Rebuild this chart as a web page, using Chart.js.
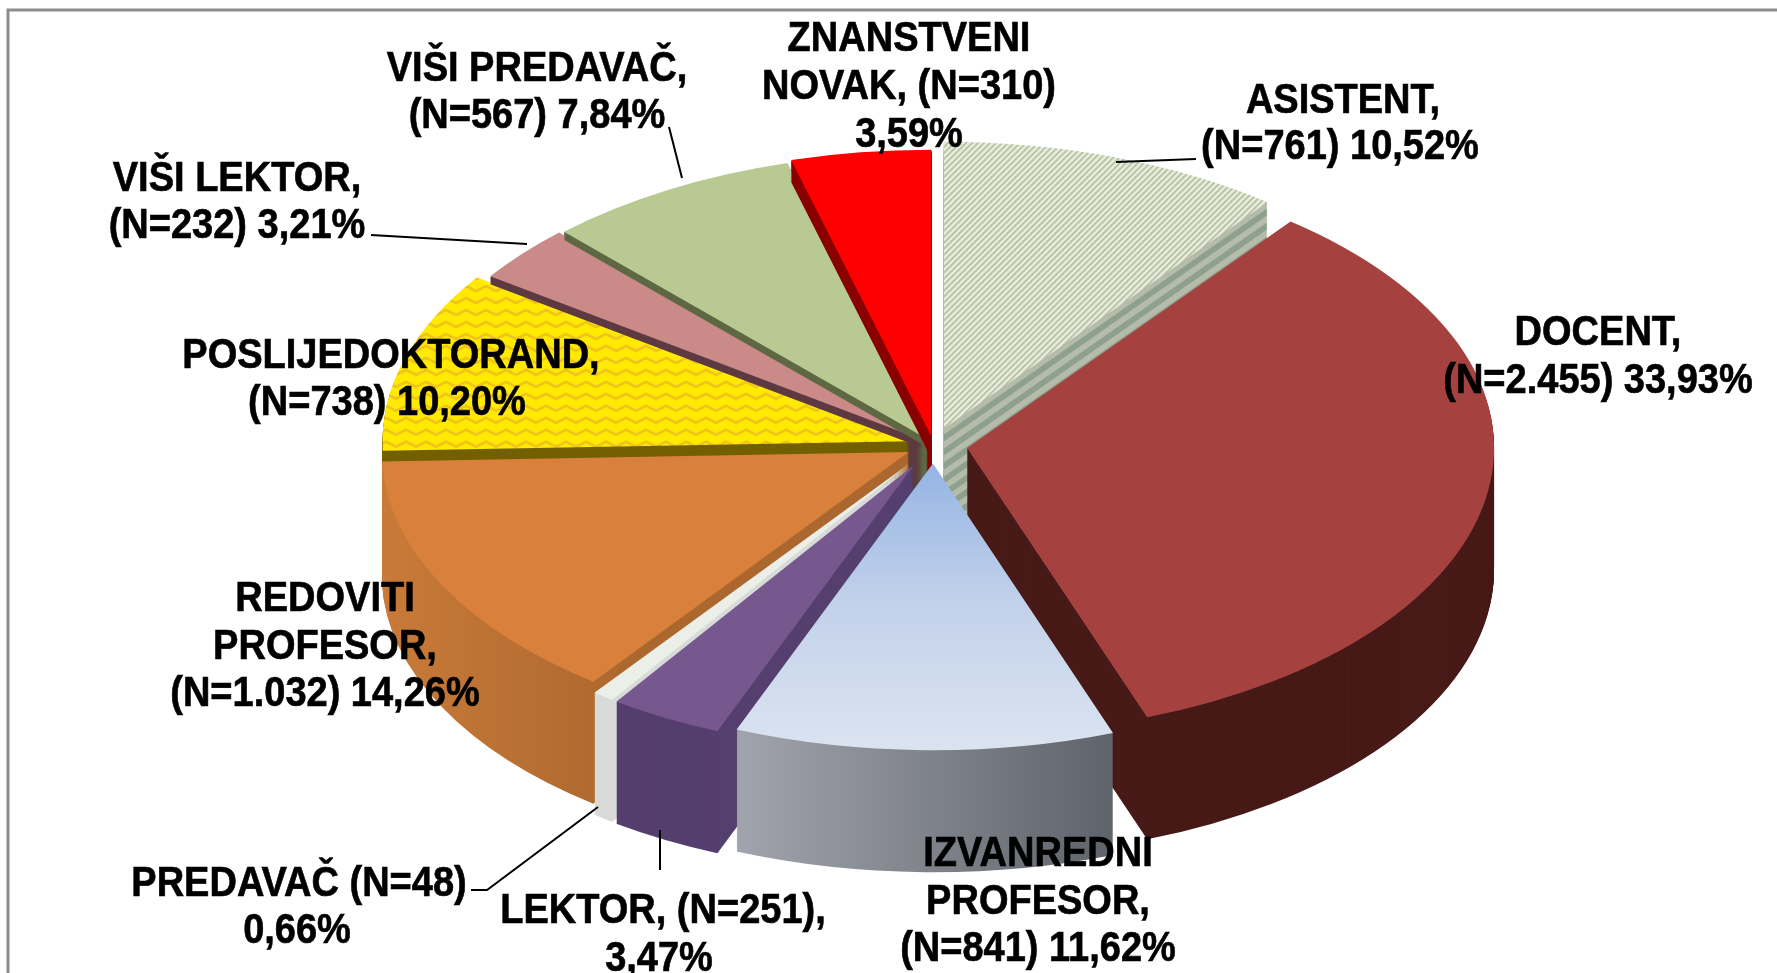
<!DOCTYPE html>
<html lang="hr">
<head>
  <meta charset="UTF-8">
  <title>Struktura nastavnika</title>
  <script src="https://cdn.jsdelivr.net/npm/chart.js"></script>
  <style>
    html, body { margin:0; padding:0; background:#fff; overflow:hidden; }
    #wrap { width:1777px; height:973px; }
  </style>
</head>
<body>
  <div id="wrap"><canvas id="graf" width="1777" height="973"></canvas></div>

  <script>
    /* ---------- Podaci ---------- */
    const kategorije = ['ASISTENT', 'DOCENT', 'IZVANREDNI PROFESOR', 'LEKTOR', 'PREDAVAČ',
                        'REDOVITI PROFESOR', 'POSLIJEDOKTORAND', 'VIŠI LEKTOR', 'VIŠI PREDAVAČ',
                        'ZNANSTVENI NOVAK'];
    const brojN = [761, 2455, 841, 251, 48, 1032, 738, 232, 567, 310];

    const natpisi = [
      ['ASISTENT,', '(N=761) 10,52%'],
      ['DOCENT,', '(N=2.455) 33,93%'],
      ['IZVANREDNI', 'PROFESOR,', '(N=841) 11,62%'],
      ['LEKTOR, (N=251),', '3,47%'],
      ['PREDAVAČ (N=48)', '0,66%'],
      ['REDOVITI', 'PROFESOR,', '(N=1.032) 14,26%'],
      ['POSLIJEDOKTORAND,', '(N=738) 10,20%'],
      ['VIŠI LEKTOR,', '(N=232) 3,21%'],
      ['VIŠI PREDAVAČ,', '(N=567) 7,84%'],
      ['ZNANSTVENI', 'NOVAK, (N=310)', '3,59%']
    ];

    /* ---------- Izgled ---------- */
    const odmak    = [32, 34, 34, 42, 41, 28, 25, 14, 12, 16];
    const gornje   = ['#dfe6d2', '#a54240', '#c5d3ea', '#76588f', '#eceee8',
                      '#d8803c', '#ffe600', '#c98a88', '#b8c992', '#ff0000'];
    const bocne    = ['#9fac95', '#471a17', '#7d8088', '#553f6e', '#d9dbd8',
                      '#b56f33', '#736000', '#5e3a42', '#5f6844', '#8a0000'];
    // koliko se boka vidi: straznje kriske imaju samo uski rub
    const DUBINA = 122;
    const dubine   = [DUBINA, DUBINA, DUBINA, DUBINA, DUBINA, DUBINA, DUBINA, 8, 8, 22];
    const straznje = [9, 8, 7];
    const redoslijed = [6, 7, 8, 9, 0, 1, 5, 4, 3, 2];

    const natpisXY = [
      [[1343, 101], [1340, 147]],
      [[1598, 333], [1598, 381]],
      [[1038, 854], [1038, 902], [1038, 949]],
      [[663, 911], [659, 959]],
      [[299, 884], [297, 931]],
      [[325, 599], [325, 647], [325, 694]],
      [[391, 356], [387, 403]],
      [[237, 179], [237, 226]],
      [[537, 69], [537, 116]],
      [[909, 39], [909, 87], [909, 135]]
    ];
    const linije = [
      [[1116, 162], [1196, 159]],
      [[371, 235], [527, 244]],
      [[669, 127], [682, 178]],
      [[471, 890], [487, 890], [598, 807]],
      [[660, 870], [660, 830]]
    ];

    const SPLJOSTENOST = 0.544;
    const POLUMJER = 527;

    /* ---------- Uzorci ---------- */
    function uzorakCikCak () {
      const c = document.createElement('canvas');
      c.width = 20; c.height = 22;
      const g = c.getContext('2d');
      g.fillStyle = '#ffea00';
      g.fillRect(0, 0, 20, 22);
      g.strokeStyle = '#f0c41e';
      g.lineWidth = 4;
      g.beginPath();
      g.moveTo(-1, 16); g.lineTo(10, 6); g.lineTo(21, 16);
      g.stroke();
      return g.createPattern(c, 'repeat');
    }

    function uzorakCrte () {
      const c = document.createElement('canvas');
      c.width = 6; c.height = 11;
      const g = c.getContext('2d');
      g.fillStyle = '#e6ecd9';
      g.fillRect(0, 0, 6, 11);
      g.strokeStyle = '#a3ae90';
      g.lineWidth = 1.5;
      g.beginPath();
      g.moveTo(-1, 12.83); g.lineTo(7, -1.83);
      g.moveTo(-7, 12.83); g.lineTo(1, -1.83);
      g.moveTo(5, 12.83); g.lineTo(13, -1.83);
      g.stroke();
      return g.createPattern(c, 'repeat');
    }

    /* ---------- 3D crtanje lukova ---------- */
    function nacrtaj (ctx, luk, boja, pomakY) {
      const izvorne = luk.options;
      const o = izvorne.offset;
      const sred = (luk.startAngle + luk.endAngle) / 2;
      luk.options = Object.assign({}, izvorne, { backgroundColor: boja, borderWidth: 0, offset: 0 });
      ctx.save();
      ctx.translate(luk.x, luk.y + pomakY);
      ctx.scale(1, SPLJOSTENOST);
      ctx.translate(-luk.x, -luk.y);
      ctx.translate(Math.cos(sred) * o, Math.sin(sred) * o);
      luk.draw(ctx);
      ctx.restore();
      luk.options = izvorne;
    }

    const pita3d = {
      id: 'pita3d',
      beforeDraw (chart) {
        const ctx = chart.ctx;
        ctx.save();
        ctx.strokeStyle = '#8c8c8c';
        ctx.lineWidth = 3;
        ctx.beginPath();
        ctx.moveTo(8, 973);
        ctx.lineTo(8, 10);
        ctx.lineTo(1777, 10);
        ctx.stroke();
        ctx.restore();
      },
      beforeDatasetDraw (chart) {
        const ctx = chart.ctx;
        const lukovi = chart.getDatasetMeta(0).data;
        const cx = lukovi[0].x, cy = lukovi[0].y;

        const cikCak = uzorakCikCak(), crte = uzorakCrte();
        const plava = ctx.createLinearGradient(0, cy, 0, cy + POLUMJER + 40);
        plava.addColorStop(0, '#94b4e4');
        plava.addColorStop(0.45, '#c2d1ea');
        plava.addColorStop(1, '#dfe6f1');
        const siva = ctx.createLinearGradient(cx - 190, 0, cx + 190, 0);
        siva.addColorStop(0, '#a0a3ab');
        siva.addColorStop(1, '#5d6168');
        const narancasta = ctx.createLinearGradient(cx - POLUMJER, 0, cx - 270, 0);
        narancasta.addColorStop(0, '#c97a38');
        narancasta.addColorStop(1, '#ab672e');

        // puni bokovi straznjih kriski, da sredina pite ne ostane prazna
        straznje.forEach(i => {
          for (let d = DUBINA; d > 0; d--) nacrtaj(ctx, lukovi[i], bocne[i], d);
        });

        redoslijed.forEach(i => {
          const luk = lukovi[i];
          for (let d = dubine[i]; d > 0; d--) {
            let boja = bocne[i];
            if (i === 2) boja = siva;
            if (i === 5) boja = narancasta;
            if (i === 0) boja = Math.floor(d / 7) % 2 ? '#8fa08e' : '#b5bcaa';
            nacrtaj(ctx, luk, boja, d);
          }
          let lice = gornje[i];
          if (i === 0) lice = crte;
          if (i === 2) lice = plava;
          if (i === 6) lice = cikCak;
          nacrtaj(ctx, luk, lice, 0);
        });
        return false;
      },
      afterDatasetsDraw (chart) {
        const ctx = chart.ctx;
        ctx.save();
        ctx.strokeStyle = '#000';
        ctx.lineWidth = 2;
        linije.forEach(l => {
          ctx.beginPath();
          l.forEach((p, n) => n ? ctx.lineTo(p[0], p[1]) : ctx.moveTo(p[0], p[1]));
          ctx.stroke();
        });
        ctx.fillStyle = '#000';
        ctx.font = 'bold 38px "Liberation Sans"';
        ctx.textAlign = 'center';
        ctx.textBaseline = 'middle';
        ctx.lineWidth = 0.6;
        natpisi.forEach((redovi, i) => {
          redovi.forEach((tekst, r) => {
            const [x, y] = natpisXY[i][r];
            ctx.save();
            ctx.translate(x, y);
            ctx.scale(1, 1.12);
            ctx.fillText(tekst, 0, 0);
            ctx.strokeText(tekst, 0, 0);
            ctx.restore();
          });
        });
        ctx.restore();
      }
    };

    /* ---------- Graf ---------- */
    new Chart(document.getElementById('graf'), {
      type: 'pie',
      data: {
        labels: kategorije,
        datasets: [{
          data: brojN,
          backgroundColor: gornje,
          offset: odmak,
          borderWidth: 0,
          radius: POLUMJER
        }]
      },
      options: {
        responsive: false,
        animation: false,
        layout: { padding: { left: 90, bottom: 83 } },
        plugins: { legend: { display: false }, tooltip: { enabled: false } }
      },
      plugins: [pita3d]
    });
  </script>
</body>
</html>
